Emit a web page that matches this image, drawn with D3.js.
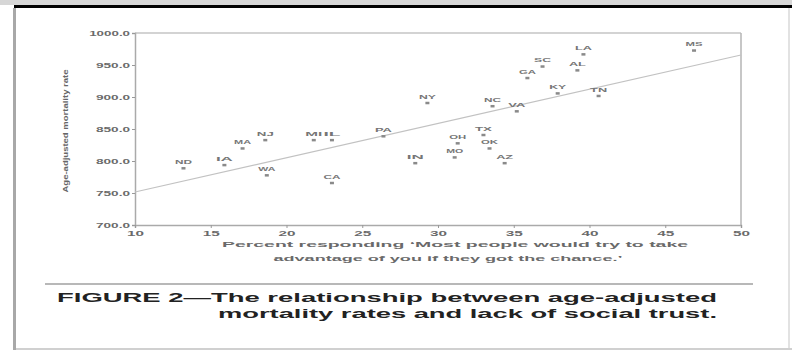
<!DOCTYPE html>
<html>
<head>
<meta charset="utf-8">
<script src="https://cdn.jsdelivr.net/npm/d3@7"></script>
<style>
  html, body { margin: 0; padding: 0; background: #fff; }
  svg { display: block; }
  text { font-family: "Liberation Sans", Arial, sans-serif; }
</style>
</head>
<body>
<svg id="chart" width="792" height="362"></svg>
<script>
// States: percent agreeing others would take advantage vs. age-adjusted mortality
const states    = ["MS","LA","AL","SC","GA","KY","TN","NY","NC","VA","TX","OK","OH","MO","AZ","IN","PA","MI","IL","CA","NJ","MA","WA","ND","IA"];
const distrust  = [46.9, 39.6, 39.2, 36.9, 35.9, 37.9, 40.6, 29.3, 33.6, 35.2, 33.0, 33.4, 31.3, 31.1, 34.4, 28.5, 26.4, 21.8, 23.0, 23.0, 18.6, 17.1, 18.7, 13.2, 15.9];
const mortality = [973, 967, 942, 948, 930, 906, 902, 891, 886, 878, 841, 820, 828, 806, 797, 797, 839, 833, 833, 766, 833, 820, 778, 789, 794];

// Fitted line: mortality = intercept + slope * distrust
const fitIntercept = 698.1;
const fitSlope = 5.35;

const xTicks = [10, 15, 20, 25, 30, 35, 40, 45, 50];
const yTicks = [700, 750, 800, 850, 900, 950, 1000];

const xTitle = ["Percent responding \u2018Most people would try to take",
                "advantage of you if they got the chance.\u2019"];
const yTitle = "Age-adjusted mortality rate";
const caption = ["FIGURE 2\u2014The relationship between age-adjusted",
                 "mortality rates and lack of social trust."];

const svg = d3.select("#chart");

// page frame
svg.append("rect").attr("x", 0).attr("y", 0).attr("width", 792).attr("height", 5).attr("fill", "#d6d6d6");
svg.append("rect").attr("x", 14).attr("y", 5).attr("width", 778).attr("height", 3).attr("fill", "#000");
svg.append("rect").attr("x", 13).attr("y", 8).attr("width", 3).attr("height", 342).attr("fill", "#a8a8a8");
svg.append("rect").attr("x", 16).attr("y", 348).attr("width", 776).attr("height", 2).attr("fill", "#d0d0d0");
svg.append("rect").attr("x", 788).attr("y", 8).attr("width", 2).attr("height", 340).attr("fill", "#e2e2e2");

const x = d3.scaleLinear().domain([10, 50]).range([135, 741]);
const y = d3.scaleLinear().domain([700, 1000]).range([225, 33]);

const g = svg.append("g");

// plot frame (top and right)
g.append("line").attr("x1", x(10)).attr("x2", x(50)).attr("y1", y(1000)).attr("y2", y(1000))
  .attr("stroke", "#c4c4c4").attr("stroke-width", 1.5);
g.append("line").attr("x1", x(50)).attr("x2", x(50)).attr("y1", y(1000)).attr("y2", y(700))
  .attr("stroke", "#b4b4b4").attr("stroke-width", 1.5);

// axes
const yAxis = g.append("g").attr("transform", `translate(${x(10)},0)`)
  .call(d3.axisLeft(y).tickValues(yTicks).tickFormat(d3.format(".1f")).tickSize(3).tickPadding(2));
const xAxis = g.append("g").attr("transform", `translate(0,${y(700)})`)
  .call(d3.axisBottom(x).tickValues(xTicks).tickFormat(d3.format("d")).tickSize(3).tickPadding(2));

[yAxis, xAxis].forEach(a => {
  a.select(".domain").attr("stroke", "#aaa").attr("stroke-width", 1.5);
  a.selectAll(".tick line").attr("stroke", "#999");
  a.selectAll(".tick text").attr("fill", "#6a6a6a").attr("font-size", 8).attr("font-weight", "bold");
});
yAxis.selectAll(".tick text").each(function () {
  const t = d3.select(this);
  t.attr("textLength", t.text().length * 6.8).attr("lengthAdjust", "spacingAndGlyphs");
});
xAxis.selectAll(".tick text").each(function () {
  const t = d3.select(this);
  t.attr("textLength", t.text().length * 8.5).attr("lengthAdjust", "spacingAndGlyphs");
});

// fitted line
g.append("line")
  .attr("x1", x(10)).attr("y1", y(fitIntercept + fitSlope * 10))
  .attr("x2", x(50)).attr("y2", y(fitIntercept + fitSlope * 50))
  .attr("stroke", "#c2c2c2").attr("stroke-width", 1.2);

// state points with labels
const pts = g.selectAll(".state").data(states.map((s, i) => ({ s, dx: distrust[i], m: mortality[i] })))
  .join("g").attr("class", "state")
  .attr("transform", d => `translate(${x(d.dx)},${y(d.m)})`);
pts.append("rect").attr("x", -2).attr("y", -1).attr("width", 4).attr("height", 2.5).attr("fill", "#8a8a8a");
pts.append("text").attr("y", -4).attr("text-anchor", "middle")
  .attr("font-size", 6).attr("font-weight", "bold").attr("fill", "#767676")
  .attr("textLength", 17).attr("lengthAdjust", "spacingAndGlyphs")
  .text(d => d.s);

// axis titles
svg.append("text").attr("transform", "translate(68,131) rotate(-90)")
  .attr("text-anchor", "middle").attr("font-size", 8).attr("font-weight", "bold").attr("fill", "#666")
  .attr("textLength", 123).attr("lengthAdjust", "spacingAndGlyphs").text(yTitle);
svg.append("text").attr("x", 455).attr("y", 247).attr("text-anchor", "middle")
  .attr("font-size", 8).attr("font-weight", "bold").attr("fill", "#6a6a6a")
  .attr("textLength", 466).attr("lengthAdjust", "spacingAndGlyphs").text(xTitle[0]);
svg.append("text").attr("x", 448).attr("y", 261).attr("text-anchor", "middle")
  .attr("font-size", 8).attr("font-weight", "bold").attr("fill", "#6a6a6a")
  .attr("textLength", 349).attr("lengthAdjust", "spacingAndGlyphs").text(xTitle[1]);

// caption
svg.append("rect").attr("x", 45).attr("y", 283).attr("width", 708).attr("height", 2).attr("fill", "#b8b8b8");
svg.append("text").attr("x", 57).attr("y", 302)
  .attr("font-size", 13).attr("font-weight", "bold").attr("fill", "#222")
  .attr("textLength", 660).attr("lengthAdjust", "spacingAndGlyphs").text(caption[0]);
svg.append("text").attr("x", 218).attr("y", 318)
  .attr("font-size", 13).attr("font-weight", "bold").attr("fill", "#222")
  .attr("textLength", 499).attr("lengthAdjust", "spacingAndGlyphs").text(caption[1]);
</script>
</body>
</html>
